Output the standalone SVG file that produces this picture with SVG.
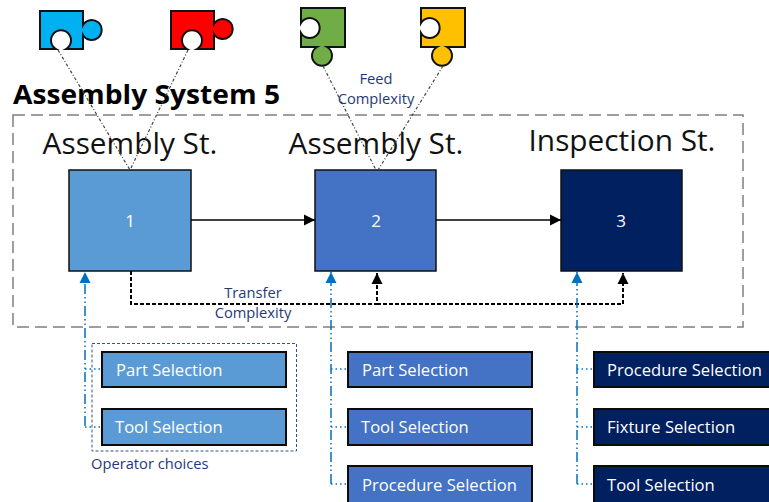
<svg xmlns="http://www.w3.org/2000/svg" width="769" height="502" viewBox="0 0 769 502">
<defs>
<marker id="ab" markerUnits="userSpaceOnUse" markerWidth="12" markerHeight="12" refX="11" refY="6" orient="auto"><path d="M0 .5L11 6L0 11.5Z" fill="#000"/></marker>
<marker id="au" markerUnits="userSpaceOnUse" markerWidth="12" markerHeight="12" refX="11" refY="6" orient="auto"><path d="M0 .5L11 6L0 11.5Z" fill="#0070c0"/></marker>
</defs>
<style>
text{font-family:"Open Sans","Noto Sans","Liberation Sans",sans-serif}
.pz{stroke:#111;stroke-width:2}
.st{stroke:#111;stroke-width:1.5}
.opt{stroke:#0b0b0b;stroke-width:2}
.head{font-size:29.8px;fill:#111;text-anchor:middle}
.num{font-size:17px;fill:#fff;text-anchor:middle}
.lab{font-size:16.6px;fill:#fff}
.note{font-size:14.7px;fill:#1f3a7a;text-anchor:middle}
.dot{fill:none;stroke:#444;stroke-width:1.2;stroke-dasharray:3 2 1 2}
.flow{fill:none;stroke:#000;stroke-width:1.5}
.tr{fill:none;stroke:#000;stroke-width:2;stroke-dasharray:4 2}
.ch{fill:none;stroke:#0070c0;stroke-width:1.5;stroke-dasharray:10 3 1.5 3 1.5 3}
.ln{fill:none;stroke:#0070c0;stroke-width:1.3;stroke-dasharray:1.5 3}
</style>
<text x="13" y="104" font-size="27" font-weight="700" fill="#000" textLength="267" lengthAdjust="spacingAndGlyphs">Assembly System 5</text>
<rect id="system-boundary" x="13" y="115" width="730" height="212" fill="none" stroke="#7f7f7f" stroke-width="1.5" stroke-dasharray="12 6"/>
<g id="piece-blue"><path class="pz" fill="#00b0f0" d="M40 11H83V25A10 10 0 1 1 83 35V49H66A10 10 0 1 0 56 49H40Z"/></g>
<g id="piece-red"><path class="pz" fill="#f00" d="M171 11H214V24A10 10 0 1 1 214 34V49H197A10 10 0 1 0 187 49H171Z"/></g>
<g id="piece-green"><path class="pz" fill="#70ad47" d="M301 8H345V47H327A10 10 0 1 1 317 47H301V33A10 10 0 1 0 301 23Z"/></g>
<g id="piece-yellow"><path class="pz" fill="#ffc000" d="M421 8H465V47H447A10 10 0 1 1 437 47H421V33A10 10 0 1 0 421 23Z"/></g>
<g id="station-1"><text class="head" x="130" y="154">Assembly St.</text><rect class="st" x="69" y="170" width="122" height="101" fill="#5b9bd5"/><text class="num" x="130" y="227">1</text></g>
<g id="station-2"><text class="head" x="376" y="154">Assembly St.</text><rect class="st" x="315" y="170" width="121" height="101" fill="#4472c4"/><text class="num" x="376" y="227">2</text></g>
<g id="station-3"><text class="head" x="622" y="151">Inspection St.</text><rect class="st" x="561" y="170" width="121" height="101" fill="#002060"/><text class="num" x="621" y="227">3</text></g>
<g id="connectors">
<path class="dot" d="M58 50L130 170M188 50L130 170M323 66L376 170M443 66L378 170"/>
<path class="flow" d="M191 220H315" marker-end="url(#ab)"/>
<path class="flow" d="M436 220H561" marker-end="url(#ab)"/>
<path class="tr" d="M131 271V304H377V273" marker-end="url(#ab)"/>
<path class="tr" d="M377 304H623V273" marker-end="url(#ab)"/>
<path class="ch" d="M85 426V272" marker-end="url(#au)"/>
<path class="ch" d="M331 484V272" marker-end="url(#au)"/>
<path class="ch" d="M577 484V272" marker-end="url(#au)"/>
<path class="ln" d="M85 369H101M85 427H101M331 369H347M331 427H347M331 484H347M577 369H593M577 427H593M577 484H593"/>
</g>
<g id="feed-complexity"><text class="note" x="376" y="84">Feed</text><text class="note" x="376" y="104">Complexity</text></g>
<g id="transfer-complexity"><text class="note" x="253" y="298">Transfer</text><text class="note" x="253" y="318">Complexity</text></g>
<g id="operator-choices"><rect x="92" y="343.500" width="204.500" height="107.500" fill="none" stroke="#2f5597" stroke-width="1" stroke-dasharray="3 2"/><text x="91" y="469" font-size="14.700" fill="#1f3a7a">Operator choices</text></g>
<g id="s1-part"><rect class="opt" x="102" y="352" width="184" height="35" fill="#5b9bd5"/><text class="lab" x="116" y="376">Part Selection</text></g>
<g id="s1-tool"><rect class="opt" x="102" y="409" width="184" height="36" fill="#5b9bd5"/><text class="lab" x="115" y="433">Tool Selection</text></g>
<g id="s2-part"><rect class="opt" x="348" y="352" width="184" height="35" fill="#4472c4"/><text class="lab" x="362" y="376">Part Selection</text></g>
<g id="s2-tool"><rect class="opt" x="348" y="409" width="184" height="36" fill="#4472c4"/><text class="lab" x="361" y="433">Tool Selection</text></g>
<g id="s2-proc"><rect class="opt" x="348" y="466" width="184" height="38" fill="#4472c4"/><text class="lab" x="362" y="491">Procedure Selection</text></g>
<g id="s3-proc"><rect class="opt" x="594" y="352" width="180" height="35" fill="#002060"/><text class="lab" x="607" y="376">Procedure Selection</text></g>
<g id="s3-fix"><rect class="opt" x="594" y="409" width="180" height="36" fill="#002060"/><text class="lab" x="607" y="433">Fixture Selection</text></g>
<g id="s3-tool"><rect class="opt" x="594" y="466" width="180" height="38" fill="#002060"/><text class="lab" x="607" y="491">Tool Selection</text></g>
</svg>
